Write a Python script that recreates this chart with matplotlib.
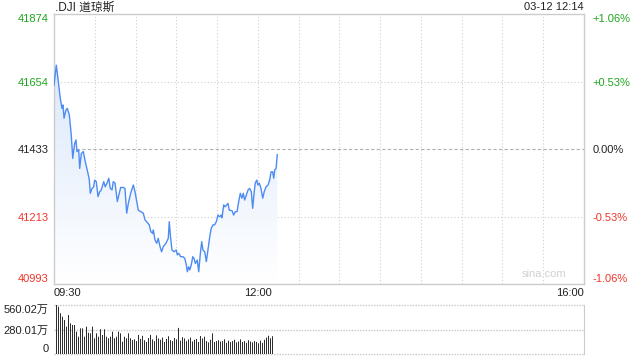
import numpy as np
import matplotlib
matplotlib.use("Agg")
import matplotlib.pyplot as plt
from matplotlib.colors import LinearSegmentedColormap

plt.rcParams['font.family'] = ['Liberation Sans', 'Noto Sans CJK SC', 'DejaVu Sans']

# ---------------- data ----------------
title = ".DJI 道琼斯"
stamp = "03-12 12:14"
prev_close = 41433.5
y_ticks = [41874, 41654, 41433, 41213, 40993]
pct_labels = ["+1.06%", "+0.53%", "0.00%", "-0.53%", "-1.06%"]
x_tick_pos = [0, 150, 390]
x_tick_labels = ["09:30", "12:00", "16:00"]

minutes = [0, 1.7, 2.9, 4.6, 5.9, 6.6, 7.4, 8.8, 9.8, 11.3, 12.7, 13.8, 15.2, 16.2, 16.9,
           18.2, 18.9, 20.1, 21.6, 23.0, 25.0, 26.0, 26.7, 28.0, 29.2, 29.9, 31.1, 32.4,
           33.6, 34.8, 36.6, 37.7, 39.0, 40.3, 41.4, 42.7, 43.6, 44.9, 46.6, 48.0, 49.1,
           51.0, 52.2, 53.5, 54.7, 56.4, 58.4, 59.6, 60.9, 62.0, 63.8, 65.7, 67.0, 68.7,
           70.1, 71.2, 72.6, 73.1, 74.3, 75.6, 76.7, 78.0, 79.2, 80.4, 82.4, 84.1, 84.8,
           85.7, 86.8, 88.3, 90.0, 90.7, 91.8, 93.2, 94.9, 96.2, 97.4, 98.1, 99.1, 99.9,
           101.0, 102.1, 103.0, 104.0, 105.4, 106.5, 107.7, 108.7, 109.6, 110.9, 112.1,
           113.3, 114.6, 115.7, 117.0, 118.2, 119.4, 120.7, 121.9, 123.1, 123.6, 124.9,
           126.0, 128.0, 129.0, 131.0, 132.2, 133.4, 134.7, 135.9, 137.1, 138.3, 139.3,
           140.3, 141.5, 142.8, 144.0, 145.2, 146.2, 147.2, 148.1, 149.2, 150.1, 151.1,
           152.3, 153.6, 154.7, 156.0, 157.5, 158.7, 159.7, 160.9, 161.7, 162.4, 163.4, 164.3]
prices = [41643, 41708, 41665, 41600, 41567, 41578, 41535, 41562, 41567, 41545, 41480, 41404,
          41453, 41464, 41426, 41431, 41371, 41420, 41426, 41393, 41355, 41333, 41290, 41306,
          41311, 41333, 41328, 41279, 41295, 41301, 41328, 41311, 41323, 41339, 41306, 41301,
          41328, 41323, 41263, 41290, 41309, 41309, 41306, 41225, 41257, 41290, 41317, 41295,
          41263, 41235, 41230, 41225, 41203, 41194, 41187, 41165, 41159, 41170, 41138, 41127,
          41143, 41116, 41099, 41116, 41127, 41143, 41197, 41150, 41105, 41099, 41105, 41089,
          41094, 41083, 41083, 41078, 41056, 41034, 41050, 41040, 41056, 41083, 41078, 41061,
          41072, 41034, 41094, 41132, 41105, 41099, 41067, 41105, 41148, 41176, 41187, 41187,
          41197, 41219, 41213, 41219, 41210, 41252, 41246, 41257, 41235, 41233, 41219, 41230,
          41230, 41263, 41290, 41274, 41290, 41268, 41284, 41301, 41306, 41295, 41241, 41290,
          41323, 41333, 41317, 41323, 41306, 41274, 41295, 41311, 41317, 41333, 41360, 41360,
          41339, 41366, 41371, 41416]

vol_ticks = [0, 280.01, 560.02]
vol_tick_labels = ["0", "280.01万", "560.02万"]
volumes = [560, 540, 466, 427, 390, 314, 446, 352, 333, 333, 257, 200, 295, 295, 200, 314,
           245, 238, 314, 182, 238, 200, 284, 219, 284, 200, 182, 200, 257, 182, 200, 257,
           238, 143, 200, 182, 238, 182, 162, 170, 150, 220, 175, 210, 160, 140, 185, 220,
           170, 150, 215, 180, 165, 190, 140, 175, 205, 160, 150, 185, 170, 300, 155, 195,
           180, 150, 170, 190, 145, 165, 175, 140, 208, 180, 200, 150, 135, 165, 238, 140,
           150, 160, 145, 150, 170, 130, 155, 140, 150, 165, 135, 145, 170, 140, 150, 130,
           160, 145, 135, 150, 140, 125, 155, 130, 165, 190, 211, 182, 205]

# ---------------- style ----------------
GREEN = '#1ea51e'
RED = '#f0352c'
DARK = '#222222'
GRID = '#cfcfcf'
LINE = '#4d8cf2'

fig = plt.figure(figsize=(6.4, 3.6), dpi=100)
ax = fig.add_axes([54/640, 1-284.3/360, 530/640, 270/360])
axv = fig.add_axes([54/640, 1-354.3/360, 530/640, 49.3/360])

ymin, ymax = 40993, 41874
ax.set_xlim(0, 390)
ax.set_ylim(ymin, ymax)

# gradient fill
cmap = LinearSegmentedColormap.from_list('g', ['#ffffff', '#d4e3fa'])
grad = np.linspace(0, 1, 256).reshape(-1, 1)
im = ax.imshow(grad, cmap=cmap, aspect='auto', origin='lower',
               extent=[0, 390, ymin, ymax], zorder=1)
poly = ax.fill_between(minutes, prices, ymin, color='none', lw=0)
im.set_clip_path(poly.get_paths()[0], transform=ax.transData)
ax.plot(minutes, prices, color=LINE, lw=1.0, zorder=3, solid_joinstyle='round')

# grid
for m in range(30, 390, 30):
    ax.axvline(m, color=GRID, lw=0.8, ls=(0, (1, 2)), zorder=0)
for v in [41654, 41213]:
    ax.axhline(v, color=GRID, lw=0.8, ls=(0, (1, 2)), zorder=0)
ax.axhline(prev_close, color='#b0b0b0', lw=0.8, ls=(0, (3, 2)), zorder=0)

for s in ax.spines.values():
    s.set_color('#cccccc')
    s.set_linewidth(1)

ax.set_yticks(y_ticks)
ax.set_yticklabels([str(t) for t in y_ticks])
ax.tick_params(axis='both', length=0, labelsize=8, pad=4)
for i, lbl in enumerate(ax.get_yticklabels()):
    lbl.set_color(GREEN if i < 2 else (DARK if i == 2 else RED))
ax.get_yticklabels()[0].set_va('top')
ax.get_yticklabels()[-1].set_va('bottom')

ax2 = ax.twinx()
ax2.set_ylim(ymin, ymax)
ax2.set_yticks(y_ticks)
ax2.set_yticklabels(pct_labels)
ax2.tick_params(axis='y', length=0, labelsize=8, pad=6)
for s in ax2.spines.values():
    s.set_visible(False)
for i, lbl in enumerate(ax2.get_yticklabels()):
    lbl.set_color(GREEN if i < 2 else (DARK if i == 2 else RED))
ax2.get_yticklabels()[0].set_va('top')
ax2.get_yticklabels()[-1].set_va('bottom')

ax.set_xticks(x_tick_pos)
ax.set_xticklabels(x_tick_labels, color=DARK)
xl = ax.get_xticklabels()
xl[0].set_ha('left')
xl[-1].set_ha('right')
ax.tick_params(axis='x', pad=3)

ax.text(0.925, 0.02, 'sina.com', transform=ax.transAxes, ha='center', va='bottom',
        color='#d0d0d0', fontsize=8)

fig.text(55/640, 1-7.5/360, title, ha='left', va='center', fontsize=8.5, color=DARK)
fig.text(584/640, 1-7.5/360, stamp, ha='right', va='center', fontsize=8, color=DARK)

# volume: one 1-px bar every 2 output pixels
n = len(volumes)
px = 390 / 530  # minutes per output pixel
vx = (2.5 + 2 * np.arange(n)) * px
axv.bar(vx, volumes, width=px, color='#2e2e2e', zorder=2, snap=False, lw=0)
axv.set_xlim(0, 390)
axv.set_ylim(0, 560.02)
for v in vol_ticks:
    axv.axhline(v, color='#c8c8c8', lw=1, ls=(0, (1, 1)), zorder=0, clip_on=False)
for k in ['top', 'bottom', 'left']:
    axv.spines[k].set_visible(False)
axv.spines['right'].set_color('#cccccc')
axv.set_xticks([])
axv.set_yticks(vol_ticks)
axv.set_yticklabels(vol_tick_labels)
axv.tick_params(axis='y', length=0, labelsize=8, pad=4, labelcolor=DARK)
axv.get_yticklabels()[0].set_va('bottom')
axv.get_yticklabels()[-1].set_va('top')

fig.savefig('out.png', dpi=100)
